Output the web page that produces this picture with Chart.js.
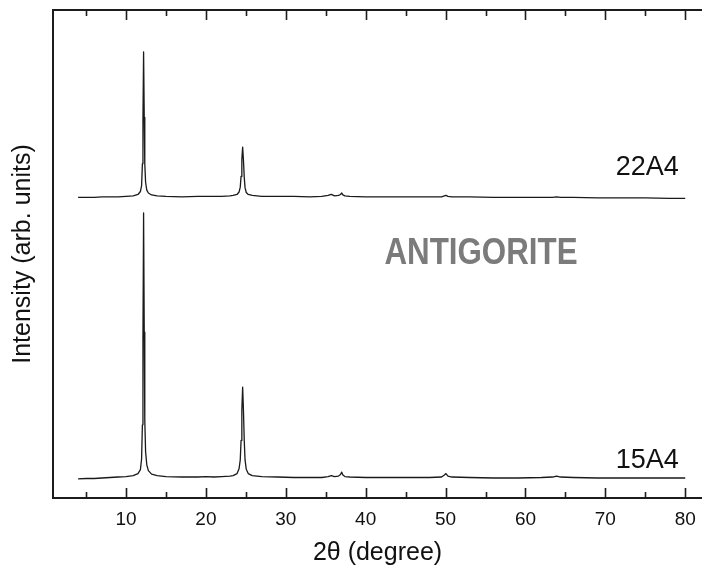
<!DOCTYPE html>
<html>
<head>
<meta charset="utf-8">
<title>Antigorite XRD</title>
<script src="https://cdn.jsdelivr.net/npm/chart.js@4.4.1/dist/chart.umd.min.js"></script>
<style>
  html, body { margin: 0; padding: 0; background: #fff; }
  #wrap { width: 702px; height: 572px; }
</style>
</head>
<body>
<div id="wrap"><canvas id="xrdChart" width="702" height="572"></canvas></div>
<script>
// ===== DATA =====

// 2-theta positions (degree)
const twoTheta = [4, 5, 6, 7, 8, 9, 10, 10.9, 11.5, 11.8, 11.95, 12.05, 12.12, 12.2, 12.28, 12.35, 12.45, 12.6, 12.8, 13.2, 13.9,
  15, 17, 19, 20, 21, 22, 23, 23.4, 23.9, 24.15, 24.3, 24.4, 24.5, 24.6, 24.7, 24.8, 24.9, 25.05, 25.3, 25.8,
  27, 29, 31, 33, 34.5, 35.3, 35.7, 36.1, 36.6, 36.85, 37.0, 37.15, 37.4, 38,
  40, 42, 44, 46, 48, 49.5, 49.85, 50.05, 50.3, 50.8, 53, 56, 59, 62, 63.4, 63.9, 64.4, 66, 69, 72, 75, 78, 80];

// intensities (arb. units)
const int15A4 = [39, 40, 40, 41, 42, 43, 44, 46, 50, 58, 80, 150, 330, 584, 340, 160, 95, 68, 56, 49, 46,
  44, 43, 43, 44, 43, 44, 45, 46, 50, 60, 78, 118, 181, 227, 180, 118, 78, 59, 50, 46,
  44, 43, 42, 42, 42, 44, 46, 44, 45, 48, 53, 47, 44, 43,
  42, 42, 42, 42, 42, 43, 47, 50, 45, 43, 42, 41, 41, 42, 43, 45, 43, 42, 41, 41, 41, 41, 41];

const int22A4 = [41, 41, 41, 42, 42, 42, 43, 44, 47, 53, 65, 110, 200, 339, 205, 110, 72, 56, 50, 46, 44,
  43, 42, 43, 43, 43, 43, 44, 45, 47, 52, 62, 84, 119, 144, 117, 82, 61, 51, 47, 45,
  43, 43, 43, 42, 43, 45, 47, 44, 45, 47, 50, 46, 44, 43,
  42, 42, 42, 42, 42, 42, 44, 45, 43, 42, 42, 41, 41, 41, 41, 42, 41, 41, 40, 40, 40, 39, 39];

// vertical shift of the upper pattern
const offset22A4 = 575;

// tick labels on the 2-theta axis
const xTickLabels = [10, 20, 30, 40, 50, 60, 70, 80];
const xMinorTicks = [5, 15, 25, 35, 45, 55, 65, 75];

const seriesNames = ['15A4', '22A4'];

// ===== CHART =====

function toPoints(xs, ys, shift) {
    return xs.map((x, i) => ({ x: x, y: ys[i] + shift }));
}

// frame (open on the right, cut by the page edge), inward ticks, text labels
const framePlugin = {
    id: 'frame',
    afterDatasetsDraw(chart) {
        const ctx = chart.ctx;
        const area = chart.chartArea;
        const xs = chart.scales.x;
        const ys = chart.scales.y;
        const w = chart.width;
        ctx.save();
        ctx.strokeStyle = '#1c1c1c';
        ctx.lineWidth = 2;
        ctx.beginPath();
        ctx.moveTo(w + 2, area.top);
        ctx.lineTo(area.left, area.top);
        ctx.lineTo(area.left, area.bottom);
        ctx.lineTo(w + 2, area.bottom);
        ctx.stroke();

        function tick(v, len) {
            const px = Math.round(xs.getPixelForValue(v)) + 0.5;
            ctx.beginPath();
            ctx.moveTo(px, area.bottom);
            ctx.lineTo(px, area.bottom - len);
            ctx.moveTo(px, area.top);
            ctx.lineTo(px, area.top + len);
            ctx.stroke();
        }
        ctx.lineWidth = 1.6;
        xTickLabels.forEach(v => tick(v, 10));
        xMinorTicks.forEach(v => tick(v, 6));

        // series names
        ctx.fillStyle = '#111';
        ctx.font = '27px "Liberation Sans", Arial, sans-serif';
        ctx.textAlign = 'right';
        ctx.textBaseline = 'alphabetic';
        ctx.fillText(seriesNames[1], xs.getPixelForValue(79.2), ys.getPixelForValue(offset22A4 + 86));
        ctx.fillText(seriesNames[0], xs.getPixelForValue(79.2), ys.getPixelForValue(62));

        // mineral name, condensed bold
        ctx.fillStyle = '#7b7b7b';
        ctx.font = 'bold 36px "Liberation Sans", Arial, sans-serif';
        ctx.textAlign = 'center';
        ctx.translate(481, 264);
        ctx.scale(0.87, 1);
        ctx.fillText('ANTIGORITE', 0, 0);
        ctx.restore();
    }
};

function createXrdChart() {
    const ctx = document.getElementById('xrdChart');
    if (!ctx) return;

    const lineStyle = {
        borderColor: '#1a1a1a',
        borderWidth: 1.3,
        borderJoinStyle: 'round',
        pointRadius: 0,
        tension: 0,
        fill: false
    };

    new Chart(ctx, {
        type: 'line',
        data: {
            datasets: [
                Object.assign({ label: seriesNames[0], data: toPoints(twoTheta, int15A4, 0) }, lineStyle),
                Object.assign({ label: seriesNames[1], data: toPoints(twoTheta, int22A4, offset22A4) }, lineStyle)
            ]
        },
        options: {
            responsive: false,
            animation: false,
            devicePixelRatio: 1,
            layout: { padding: { top: 10, right: 0, left: 0, bottom: 0 } },
            plugins: {
                legend: { display: false },
                tooltip: { enabled: false }
            },
            scales: {
                x: {
                    type: 'linear',
                    min: 0.86,
                    max: 82.1,
                    grid: { display: false, drawTicks: false },
                    border: { display: false },
                    afterBuildTicks: scale => {
                        scale.ticks = xTickLabels.map(v => ({ value: v }));
                    },
                    afterFit: scale => {
                        scale.height = 74;
                        scale.paddingLeft = 0;
                        scale.paddingRight = 0;
                    },
                    ticks: {
                        padding: 10,
                        color: '#111',
                        font: { family: '"Liberation Sans", Arial, sans-serif', size: 19 },
                        maxRotation: 0
                    },
                    title: {
                        display: true,
                        text: '2θ (degree)',
                        color: '#111',
                        font: { family: '"Liberation Sans", Arial, sans-serif', size: 25 },
                        padding: { top: 4, bottom: 4 }
                    }
                },
                y: {
                    min: 0,
                    max: 1000,
                    grid: { display: false, drawTicks: false },
                    border: { display: false },
                    ticks: { display: false },
                    afterFit: scale => { scale.width = 53; },
                    title: {
                        display: true,
                        text: 'Intensity (arb. units)',
                        color: '#111',
                        font: { family: '"Liberation Sans", Arial, sans-serif', size: 25 },
                        padding: { top: 8, bottom: 0 }
                    }
                }
            }
        },
        plugins: [framePlugin]
    });
}

document.addEventListener('DOMContentLoaded', function() {
    if (typeof Chart !== 'undefined') {
        createXrdChart();
    } else {
        console.log('Chart.js not loaded');
    }
});
</script>
</body>
</html>
